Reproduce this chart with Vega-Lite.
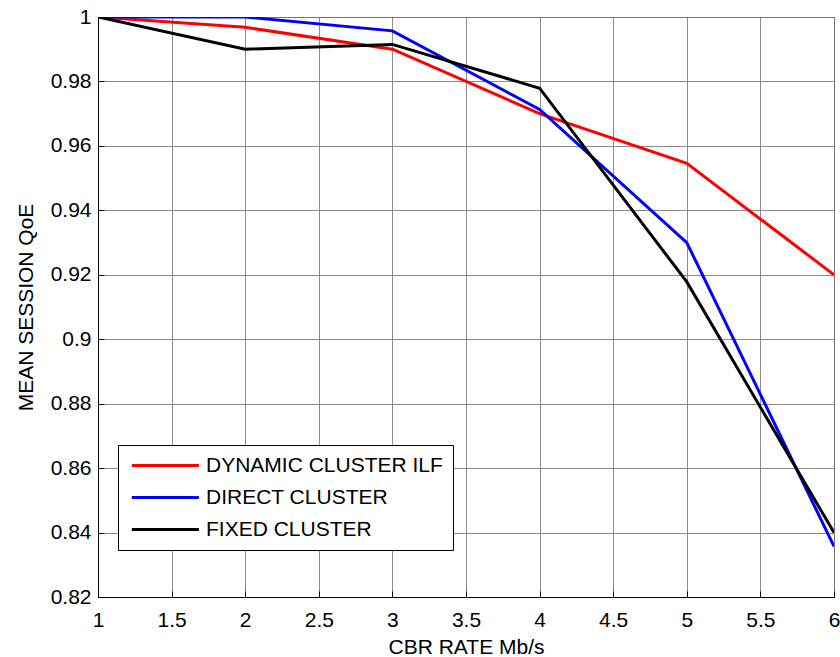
{
  "$schema": "https://vega.github.io/schema/vega-lite/v6.json",
  "autosize": {"type": "none"},
  "padding": {"left": 98, "top": 17, "right": 6, "bottom": 60},
  "width": 736,
  "height": 580,
  "background": "white",
  "config": {
    "font": "Liberation Sans",
    "view": {"stroke": "black", "strokeWidth": 1},
    "axis": {
      "labelFont": "Liberation Sans",
      "titleFont": "Liberation Sans",
      "labelFontSize": 21,
      "titleFontSize": 21,
      "labelColor": "black",
      "titleColor": "black",
      "titleFontWeight": "normal",
      "domainColor": "black",
      "tickColor": "black",
      "tickSize": -6,
      "gridColor": "#808080",
      "gridOpacity": 0.9,
      "gridWidth": 1
    }
  },
  "data": {
    "values": [
      {"rate": 1, "qoe": 1.0, "series": "DYNAMIC CLUSTER ILF"},
      {"rate": 2, "qoe": 0.9968, "series": "DYNAMIC CLUSTER ILF"},
      {"rate": 3, "qoe": 0.990, "series": "DYNAMIC CLUSTER ILF"},
      {"rate": 4, "qoe": 0.970, "series": "DYNAMIC CLUSTER ILF"},
      {"rate": 5, "qoe": 0.9546, "series": "DYNAMIC CLUSTER ILF"},
      {"rate": 6, "qoe": 0.920, "series": "DYNAMIC CLUSTER ILF"},
      {"rate": 1, "qoe": 1.0, "series": "DIRECT CLUSTER"},
      {"rate": 2, "qoe": 1.0, "series": "DIRECT CLUSTER"},
      {"rate": 3, "qoe": 0.9957, "series": "DIRECT CLUSTER"},
      {"rate": 4, "qoe": 0.9713, "series": "DIRECT CLUSTER"},
      {"rate": 5, "qoe": 0.930, "series": "DIRECT CLUSTER"},
      {"rate": 6, "qoe": 0.8357, "series": "DIRECT CLUSTER"},
      {"rate": 1, "qoe": 1.0, "series": "FIXED CLUSTER"},
      {"rate": 2, "qoe": 0.990, "series": "FIXED CLUSTER"},
      {"rate": 3, "qoe": 0.9915, "series": "FIXED CLUSTER"},
      {"rate": 4, "qoe": 0.9779, "series": "FIXED CLUSTER"},
      {"rate": 5, "qoe": 0.9178, "series": "FIXED CLUSTER"},
      {"rate": 6, "qoe": 0.840, "series": "FIXED CLUSTER"}
    ]
  },
  "mark": {"type": "line", "strokeWidth": 3, "clip": true},
  "encoding": {
    "x": {
      "field": "rate",
      "type": "quantitative",
      "scale": {"domain": [1, 6], "nice": false, "zero": false},
      "axis": {
        "title": "CBR RATE Mb/s",
        "values": [1, 1.5, 2, 2.5, 3, 3.5, 4, 4.5, 5, 5.5, 6],
        "format": "~g",
        "labelPadding": 18,
        "titlePadding": 6,
        "labelFlush": false
      }
    },
    "y": {
      "field": "qoe",
      "type": "quantitative",
      "scale": {"domain": [0.82, 1], "nice": false, "zero": false},
      "axis": {
        "title": "MEAN SESSION QoE",
        "values": [0.82, 0.84, 0.86, 0.88, 0.9, 0.92, 0.94, 0.96, 0.98, 1],
        "format": "~g",
        "labelPadding": 13,
        "titlePadding": 14,
        "labelFlush": false
      }
    },
    "color": {
      "field": "series",
      "type": "nominal",
      "sort": ["DYNAMIC CLUSTER ILF", "DIRECT CLUSTER", "FIXED CLUSTER"],
      "scale": {
        "domain": ["DYNAMIC CLUSTER ILF", "DIRECT CLUSTER", "FIXED CLUSTER"],
        "range": ["#ff0000", "#0000ff", "#000000"]
      },
      "legend": {
        "title": null,
        "orient": "none",
        "legendX": 20,
        "legendY": 428,
        "symbolType": "M-1,0H9",
        "symbolSize": 180,
        "symbolStrokeWidth": 3,
        "labelFont": "Liberation Sans",
        "labelFontSize": 21,
        "labelColor": "black",
        "labelOffset": 57,
        "rowPadding": 10,
        "padding": 10,
        "strokeColor": "black",
        "fillColor": "white",
        "labelLimit": 400
      }
    }
  }
}
